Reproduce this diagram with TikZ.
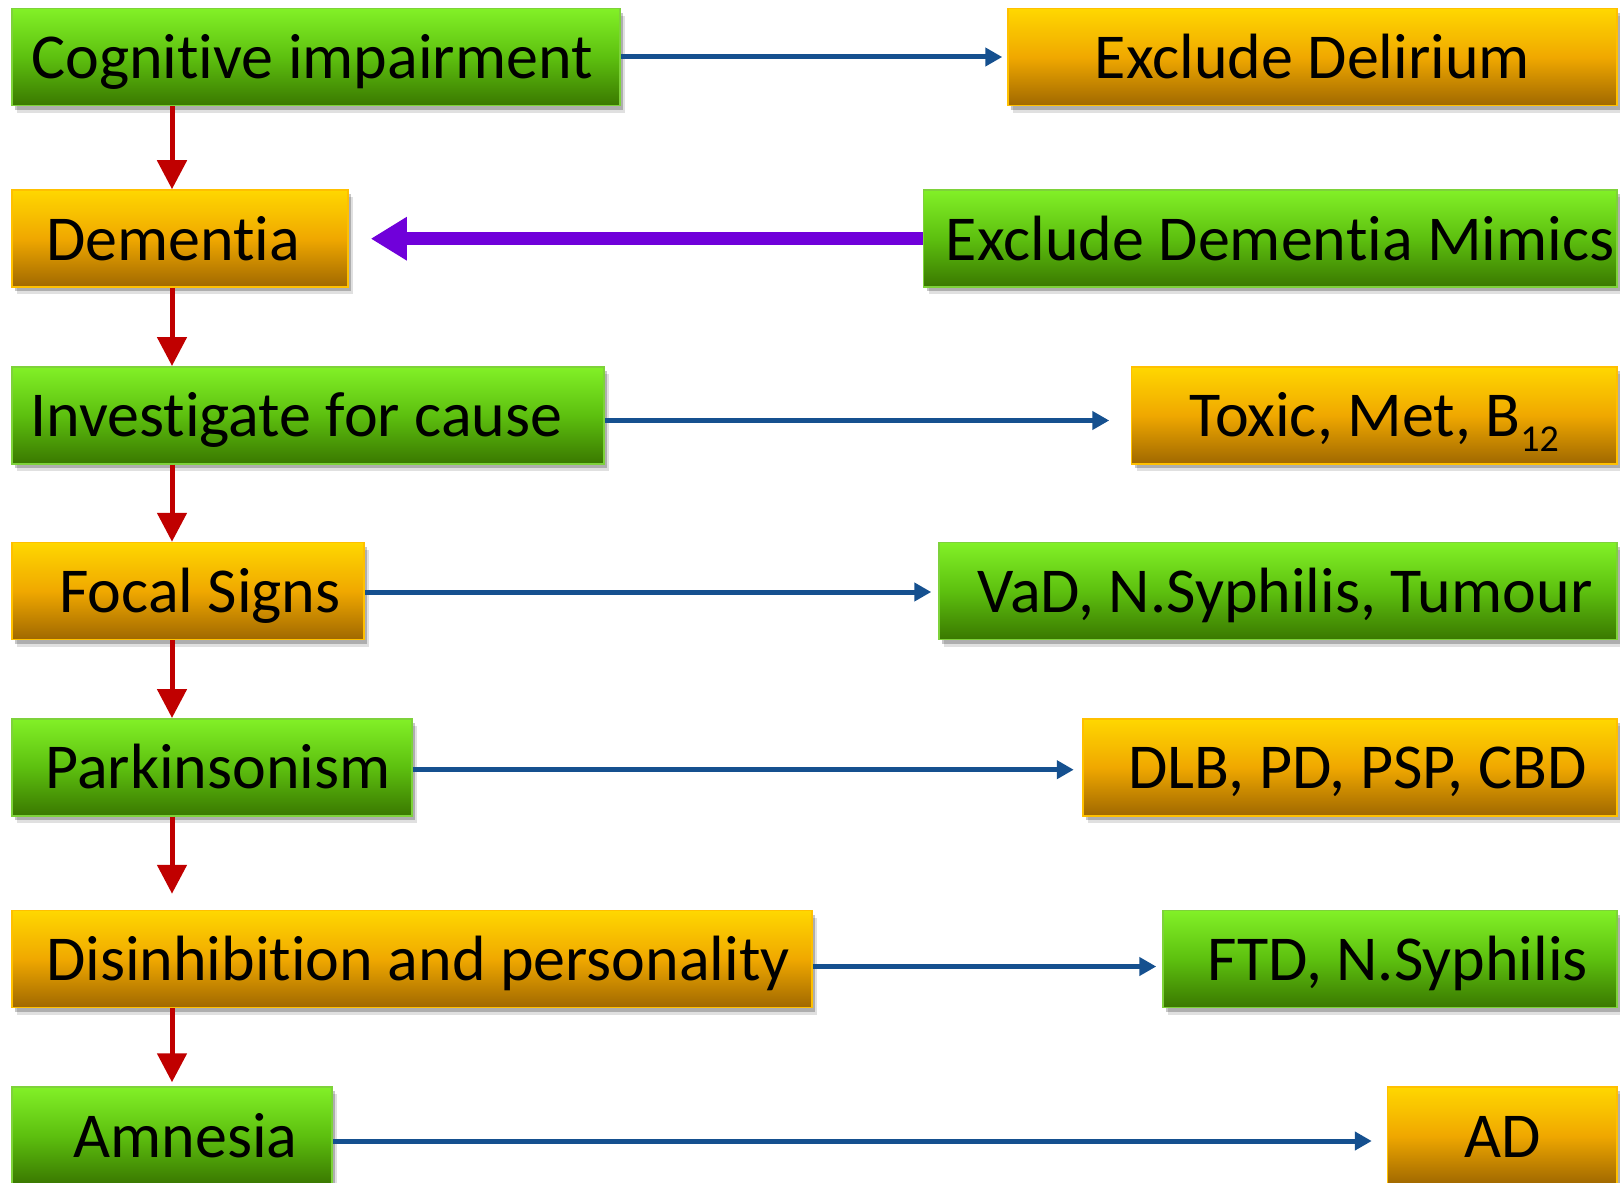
\documentclass[tikz,border=0pt]{standalone}
\usepackage{fontspec}
\setmainfont{Carlito}[Ligatures={NoCommon,NoContextual}]
\usetikzlibrary{arrows.meta,shadows}
\newdimen\pxu \pxu=0.5pt
\newcommand\lsh[1]{\hspace*{#1\pxu}}
\definecolor{gtop}{HTML}{82F027}
\definecolor{gmid}{HTML}{5DC00F}
\definecolor{gbot}{HTML}{3A7800}
\definecolor{gborder}{HTML}{7ED23A}
\definecolor{otop}{HTML}{FFD700}
\definecolor{omid}{HTML}{F0A800}
\definecolor{obot}{HTML}{A06800}
\definecolor{oborder}{HTML}{FFC000}
\definecolor{redc}{HTML}{C00000}
\definecolor{bluec}{HTML}{15508F}
\definecolor{purplec}{HTML}{7000DA}
\tikzset{
  box/.style={rectangle, inner sep=0pt, line width=0.75pt, minimum height=48.5pt,
    text height=21.5pt, text depth=0pt, font=\fontsize{32pt}{38pt}\selectfont,
    drop shadow={shadow xshift=1.5pt, shadow yshift=-2pt, opacity=0.22, fill=black},
    drop shadow={shadow xshift=2.5pt, shadow yshift=-3.5pt, opacity=0.12, fill=black}},
  gbox/.style={box, draw=gborder, top color=gtop, bottom color=gbot, middle color=gmid},
  obox/.style={box, draw=oborder, top color=otop, bottom color=obot, middle color=omid},
  down/.style={draw=redc, line width=2.5pt, -{Triangle[length=14.5pt,width=14.5pt]}},
  side/.style={draw=bluec, line width=2.5pt, -{Triangle[length=8.5pt,width=9pt]}},
  back/.style={draw=purplec, line width=6.5pt, -{Triangle[length=18pt,width=20.5pt]}}
}
\begin{document}
\begin{tikzpicture}[x=0.5pt, y=-0.5pt]
\fill[white] (0,0) rectangle (1620,1182);
\useasboundingbox (0,0) rectangle (1620,1182);

\node[gbox, minimum width=304pt] (cog) at (316,57.25) {Cognitive impairment\lsh{8}};
\node[obox, minimum width=304.5pt] (del) at (1312.5,57.25) {Exclude Delirium};
\node[obox, minimum width=168pt] (dem) at (180,238.5) {Dementia\lsh{14}};
\node[gbox, minimum width=346.75pt] (mim) at (1270.25,238.5) {\lsh{20}Exclude Dementia Mimics};
\node[gbox, minimum width=296pt] (inv) at (308,415.25) {Investigate for cause\lsh{23}};
\node[obox, minimum width=242.75pt] (tox) at (1374.25,415.25) {Toxic, Met, B\raisebox{-7.3pt}{\fontsize{19pt}{19pt}\selectfont 12}};
\node[obox, minimum width=176pt] (foc) at (188,591) {\lsh{24}Focal Signs};
\node[gbox, minimum width=339pt] (vad) at (1278,591) {\lsh{14}VaD, N.Syphilis, Tumour};
\node[gbox, minimum width=200pt] (par) at (212,767.25) {\lsh{12}Parkinsonism};
\node[obox, minimum width=267pt] (dlb) at (1350,767.25) {\lsh{15}DLB, PD, PSP, CBD};
\node[obox, minimum width=400pt] (dis) at (412,959) {\lsh{12}Disinhibition and personality};
\node[gbox, minimum width=227pt] (ftd) at (1390,959) {\lsh{16}FTD, N.Syphilis};
\node[gbox, minimum width=160pt] (amn) at (172,1135.5) {\lsh{27}Amnesia};
\node[obox, minimum width=114.75pt] (ad) at (1502.25,1135.5) {AD};

\coordinate (spine) at (172,0);
\coordinate (r1) at (0,57);
\coordinate (r2) at (0,238.7);
\coordinate (r3) at (0,420.5);
\coordinate (r4) at (0,592);
\coordinate (r5) at (0,769.7);
\coordinate (r6) at (0,966.5);
\coordinate (r7) at (0,1141);

\draw[down] (cog.south -| spine) -- (dem.north -| spine);
\draw[down] (dem.south -| spine) -- (inv.north -| spine);
\draw[down] (inv.south -| spine) -- (foc.north -| spine);
\draw[down] (foc.south -| spine) -- (par.north -| spine);
\draw[down, shorten >=8pt] (par.south -| spine) -- (dis.north -| spine);
\draw[down, shorten >=2pt] (dis.south -| spine) -- (amn.north -| spine);

\draw[side, shorten >=2.5pt] (cog.east |- r1) -- (del.west |- r1);
\draw[back, shorten >=11pt] (mim.west |- r2) -- (dem.east |- r2);
\draw[side, shorten >=10.75pt] (inv.east |- r3) -- (tox.west |- r3);
\draw[side, shorten >=3.5pt] (foc.east |- r4) -- (vad.west |- r4);
\draw[side, shorten >=4.25pt] (par.east |- r5) -- (dlb.west |- r5);
\draw[side, shorten >=3pt] (dis.east |- r6) -- (ftd.west |- r6);
\draw[side, shorten >=7.5pt] (amn.east |- r7) -- (ad.west |- r7);
\end{tikzpicture}
\end{document}
